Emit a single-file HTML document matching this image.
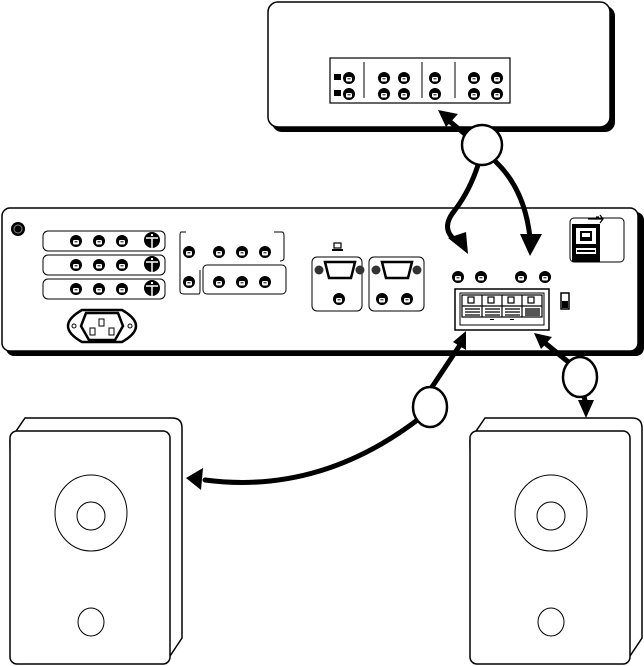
<!DOCTYPE html>
<html><head><meta charset="utf-8"><style>html,body{margin:0;padding:0;background:#fff}svg{display:block}</style></head>
<body>
<svg width="644" height="666" viewBox="0 0 644 666" xmlns="http://www.w3.org/2000/svg" font-family="Liberation Sans, sans-serif">
<defs>
<g id="j"><circle r="6" fill="#000"/><rect x="-3" y="-1" width="6" height="4.5" rx="1.2" fill="#fff"/><rect x="-1.5" y="0.3" width="3" height="1" fill="#000"/></g>
<g id="k"><circle r="8" fill="#000"/><path d="M-6,-2 H6 M0,-2 V8" stroke="#fff" stroke-width="1.5"/><rect x="-1" y="-6" width="2" height="2" fill="#fff"/></g>
</defs>
<!-- top unit -->
<rect x="272" y="6" width="343" height="126" rx="10" fill="#000"/>
<rect x="268" y="2" width="342" height="125" rx="10" fill="#fff" stroke="#000" stroke-width="1.5"/>
<rect x="330" y="58" width="180" height="45" fill="#fff" stroke="#000" stroke-width="1.2"/>
<path d="M364,62V98 M422,62V98 M455,62V98" stroke="#000" stroke-width="1"/>
<rect x="334" y="74" width="7" height="6" fill="#000"/><rect x="334" y="90" width="7" height="6" fill="#000"/>
<use href="#j" x="349" y="78"/><use href="#j" x="349" y="94"/>
<use href="#j" x="384" y="78"/><use href="#j" x="384" y="94"/>
<use href="#j" x="404" y="78"/><use href="#j" x="404" y="94"/>
<use href="#j" x="435" y="78"/><use href="#j" x="435" y="94"/>
<use href="#j" x="474" y="78"/><use href="#j" x="474" y="94"/>
<use href="#j" x="497" y="78"/><use href="#j" x="497" y="94"/>
<!-- main unit -->
<rect x="6" y="212" width="638" height="144" rx="8" fill="#000"/>
<rect x="2" y="208" width="636" height="143" rx="8" fill="#fff" stroke="#000" stroke-width="1.5"/>
<circle cx="18" cy="229" r="7" fill="#000"/><circle cx="18" cy="229" r="4" fill="none" stroke="#888" stroke-width="1"/>
<g fill="none" stroke="#000" stroke-width="1">
<rect x="43" y="231" width="122" height="20" rx="5"/>
<rect x="43" y="255" width="122" height="20" rx="5"/>
<rect x="43" y="279" width="122" height="20" rx="5"/>
<path d="M186,232 H181 Q180,232 180,236 V291 Q180,294 184,294 H199 Q200,294 200,290 V270"/>
<path d="M274,232 H282 Q284,232 284,236 V258 Q284,261 280,261"/>
<rect x="203" y="265" width="83" height="29" rx="4"/>
<rect x="312" y="257" width="50" height="54" rx="5"/>
<rect x="369" y="257" width="55" height="54" rx="5"/>
<rect x="570" y="218" width="54" height="44" rx="4"/>
</g>
<g>
<use href="#j" x="76" y="241"/><use href="#j" x="99" y="241"/><use href="#j" x="122" y="241"/><use href="#k" x="152" y="240"/>
<use href="#j" x="76" y="265"/><use href="#j" x="99" y="265"/><use href="#j" x="122" y="265"/><use href="#k" x="152" y="264"/>
<use href="#j" x="76" y="289"/><use href="#j" x="99" y="289"/><use href="#j" x="122" y="289"/><use href="#k" x="152" y="288"/>
<use href="#j" x="189" y="252"/><use href="#j" x="189" y="282"/>
<use href="#j" x="219" y="252"/><use href="#j" x="242" y="252"/><use href="#j" x="265" y="252"/>
<use href="#j" x="219" y="282"/><use href="#j" x="242" y="282"/><use href="#j" x="265" y="282"/>
<use href="#j" x="339" y="299"/><use href="#j" x="382" y="299"/><use href="#j" x="407" y="299"/>
<use href="#j" x="458" y="277"/><use href="#j" x="481" y="277"/><use href="#j" x="521" y="277"/><use href="#j" x="545" y="277"/>
</g>
<!-- pc icon -->
<rect x="334" y="243" width="7" height="5" fill="none" stroke="#000" stroke-width="1.2"/><rect x="332" y="249" width="11" height="2" fill="#000"/>
<!-- VGA -->
<g>
<circle cx="319" cy="270" r="4.5" fill="#333"/><circle cx="360" cy="270" r="4.5" fill="#333"/>
<path d="M325,262 H355 L351,278 H329 Z" fill="#fff" stroke="#000" stroke-width="2.5"/>
<circle cx="376" cy="270" r="4.5" fill="#333"/><circle cx="417" cy="270" r="4.5" fill="#333"/>
<path d="M382,262 H412 L408,278 H386 Z" fill="#fff" stroke="#000" stroke-width="2.5"/>
</g>
<!-- power inlet -->
<path d="M82,310 H122 Q136,318 136,326 Q136,334 122,342 H82 Q68,334 68,326 Q68,318 82,310 Z" fill="#fff" stroke="#000" stroke-width="2.5"/>
<circle cx="74" cy="326" r="2" fill="none" stroke="#000"/><circle cx="130" cy="326" r="2" fill="none" stroke="#000"/>
<path d="M86,313 H118 L123,326 L115,340 H89 L81,326 Z" fill="#fff" stroke="#000" stroke-width="2.5"/>
<rect x="99" y="319" width="5" height="7" fill="none" stroke="#000"/><rect x="90" y="328" width="5" height="7" fill="none" stroke="#000"/><rect x="109" y="328" width="5" height="7" fill="none" stroke="#000"/>
<!-- speaker terminal -->
<rect x="455" y="289" width="94" height="41" fill="#fff" stroke="#000" stroke-width="1.5"/>
<rect x="460" y="293" width="84" height="32" fill="none" stroke="#000" stroke-width="1"/>
<rect x="462" y="295" width="80" height="22" fill="#fff" stroke="#000" stroke-width="1.2"/>
<g fill="none" stroke="#000" stroke-width="1.2">
<rect x="468" y="297" width="6" height="6"/><rect x="488" y="297" width="6" height="6"/><rect x="508" y="297" width="6" height="6"/><rect x="528" y="297" width="6" height="6"/>
<path d="M482,295V317 M502,295V317 M522,295V317 M462,306H542"/>
<path d="M465,309H480 M465,312H480 M465,315H480 M485,309H500 M485,312H500 M485,315H500 M505,309H520 M505,312H520 M505,315H520"/>
</g>
<rect x="525" y="308" width="15" height="8" fill="#555"/>
<rect x="490" y="319" width="4" height="1" fill="#000"/><rect x="510" y="319" width="4" height="1" fill="#000"/>
<rect x="561" y="293" width="8" height="16" fill="#fff" stroke="#000" stroke-width="1.5"/><rect x="562" y="301" width="6" height="7" fill="#000"/>
<!-- USB -->
<rect x="572" y="224" width="28" height="38" fill="#000"/>
<rect x="576" y="228" width="20" height="16" fill="#fff"/><rect x="580" y="231" width="12" height="10" fill="#000"/><rect x="582" y="233" width="8" height="4" fill="#fff"/>
<rect x="576" y="248" width="20" height="6" fill="#fff"/><rect x="577" y="250" width="18" height="2" fill="#000"/>
<path d="M588,219 H603 M600,215 L603,219 L600,223 M596,217 h3" stroke="#000" stroke-width="1.2" fill="none"/>
<!-- speakers -->
<g fill="#fff" stroke="#000" stroke-width="1.5">
<path d="M25,418 H172 Q182,418 182,428 V638 L166,662 H14 L10,440 Z"/>
<rect x="10" y="431" width="160" height="233" rx="7"/>
<path d="M485,418 H632 Q642,418 642,428 V638 L626,662 H474 L470,440 Z"/>
<rect x="470" y="431" width="160" height="233" rx="7"/>
</g>
<g fill="none" stroke="#000" stroke-width="1">
<ellipse cx="91" cy="513" rx="36" ry="38"/><circle cx="91" cy="516" r="14"/><ellipse cx="91" cy="622" rx="13" ry="14"/>
<ellipse cx="551" cy="513" rx="36" ry="38"/><circle cx="551" cy="516" r="14"/><ellipse cx="551" cy="622" rx="13" ry="14"/>
</g>
<!-- connectors -->
<g fill="none" stroke="#000" stroke-width="5" stroke-linecap="round">
<path d="M478,165 Q470,190 455,210 Q440,228 455,240"/>
<path d="M496,162 Q525,190 530,238"/>
<path d="M472,140 L448,120"/>
<path d="M420,418 Q320,495 205,480"/>
<path d="M430,390 L460,345"/>
<path d="M572,365 L545,343"/>
<path d="M584,396 L586,405"/>
</g>
<g fill="#000">
<path d="M438,110 L458,114 L446,127 Z"/>
<path d="M468,254 L448,238 L466,232 Z"/>
<path d="M530,256 L520,234 L542,234 Z"/>
<path d="M186,478 L203,468 L201,490 Z"/>
<path d="M466,331 L466,350 L453,342 Z"/>
<path d="M534,333 L552,337 L541,349 Z"/>
<path d="M586,418 L578,400 L594,400 Z"/>
</g>
<g fill="#fff" stroke="#000" stroke-width="2.5">
<circle cx="482" cy="145" r="20"/>
<ellipse cx="430" cy="407" rx="17" ry="20"/>
<ellipse cx="580" cy="377" rx="17" ry="20"/>
</g>
</svg>
</body></html>
